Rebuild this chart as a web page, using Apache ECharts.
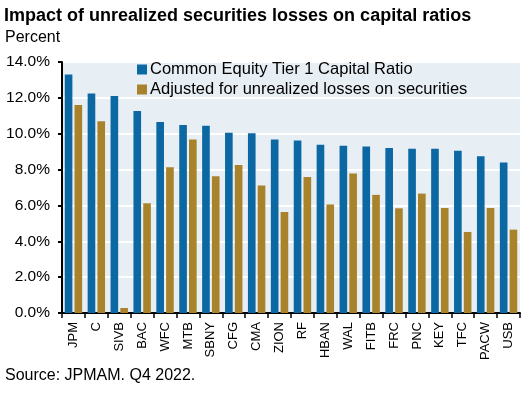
<!DOCTYPE html>
<html>
<head>
<meta charset="utf-8">
<script src="https://cdn.jsdelivr.net/npm/echarts@6/dist/echarts.min.js"></script>
<style>
    html, body { margin: 0; padding: 0; background: #fff; }
    #chart { width: 530px; height: 398px; }
</style>
</head>
<body>
<div id="chart"></div>
<script>
var banks = ['JPM', 'C', 'SIVB', 'BAC', 'WFC', 'MTB', 'SBNY', 'CFG', 'CMA', 'ZION',
    'RF', 'HBAN', 'WAL', 'FITB', 'FRC', 'PNC', 'KEY', 'TFC', 'PACW', 'USB'];
var cet1 = [13.3, 12.25, 12.1, 11.26, 10.65, 10.48, 10.45, 10.05, 10.03, 9.68,
    9.62, 9.38, 9.33, 9.29, 9.2, 9.16, 9.16, 9.05, 8.75, 8.4];
var adjusted = [11.6, 10.7, 0.28, 6.12, 8.13, 9.68, 7.63, 8.25, 7.11, 5.64,
    7.58, 6.05, 7.78, 6.59, 5.84, 6.66, 5.86, 4.52, 5.86, 4.65];
var yTicks = [0, 2, 4, 6, 8, 10, 12, 14];

var font = '"Liberation Sans", Arial, sans-serif';
var chart = echarts.init(document.getElementById('chart'));
var option = {
    animation: false,
    textStyle: { fontFamily: font },
    title: [
        {
            text: 'Impact of unrealized securities losses on capital ratios',
            left: 4, top: 7, padding: 0,
            textStyle: { fontFamily: font, fontSize: 18, fontWeight: 'bold', color: '#000' }
        },
        {
            text: 'Percent',
            left: 5, top: 30, padding: 0,
            textStyle: { fontFamily: font, fontSize: 16, fontWeight: 'normal', color: '#000' }
        },
        {
            text: 'Source: JPMAM. Q4 2022.',
            left: 5, top: 368, padding: 0,
            textStyle: { fontFamily: font, fontSize: 16, fontWeight: 'normal', color: '#000' }
        }
    ],
    legend: {
        orient: 'vertical',
        left: 137, top: 61, padding: 0,
        itemWidth: 10, itemHeight: 10, itemGap: 3,
        icon: 'rect',
        textStyle: { fontFamily: font, fontSize: 16.5, color: '#000', padding: [0, 0, 0, -2] }
    },
    grid: {
        left: 62, right: 10, top: 62, bottom: 85,
        show: true, backgroundColor: '#e7eef4', borderWidth: 0
    },
    xAxis: {
        type: 'category',
        data: banks,
        axisLine: { lineStyle: { color: '#000', width: 2 } },
        axisTick: { show: true, interval: 0, length: 5, lineStyle: { color: '#000', width: 1.5 } },
        axisLabel: {
            interval: 0, rotate: 90, color: '#000', fontSize: 13, fontFamily: font, margin: 9
        }
    },
    yAxis: {
        type: 'value',
        min: yTicks[0], max: yTicks[yTicks.length - 1], interval: 2,
        axisLine: { show: true, lineStyle: { color: '#000', width: 2 } },
        axisTick: { show: true, length: 4, lineStyle: { color: '#000', width: 2 } },
        axisLabel: {
            color: '#000', fontSize: 15.5, fontFamily: font, margin: 12,
            formatter: function (v) { return v.toFixed(1) + '%'; }
        },
        splitLine: { lineStyle: { color: '#fff', width: 2 } }
    },
    series: [
        {
            name: 'Common Equity Tier 1 Capital Ratio',
            type: 'bar',
            data: cet1,
            itemStyle: { color: '#0b68a3' },
            barGap: '28%',
            barCategoryGap: '24%'
        },
        {
            name: 'Adjusted for unrealized losses on securities',
            type: 'bar',
            data: adjusted,
            itemStyle: { color: '#a8832b' }
        }
    ]
};
chart.setOption(option);
</script>
</body>
</html>
